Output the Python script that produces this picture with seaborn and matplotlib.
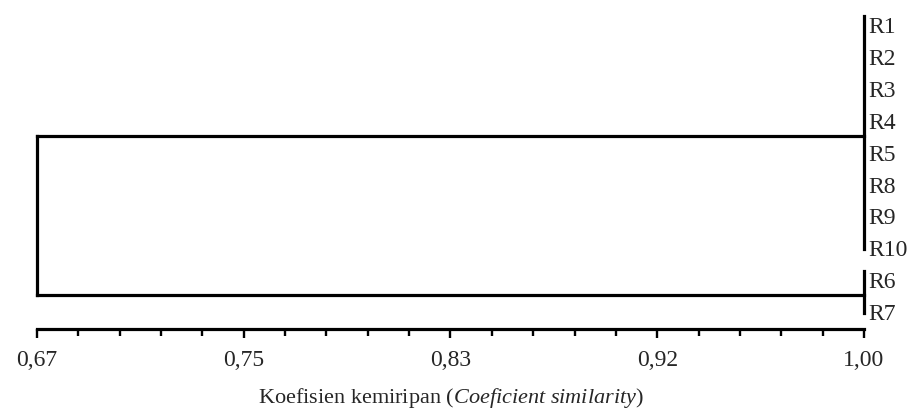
import numpy as np
import pandas as pd
import matplotlib
matplotlib.use("Agg")
import matplotlib.pyplot as plt
import seaborn as sns

# Leaf order (top to bottom) and cluster structure
leaves = ["R1", "R2", "R3", "R4", "R5", "R8", "R9", "R10", "R6", "R7"]
group_a = ["R1", "R2", "R3", "R4", "R5", "R8", "R9", "R10"]
group_b = ["R6", "R7"]
height_a = 1.00
height_b = 1.00
root_height = 0.67

tick_labels = ["0,67", "0,75", "0,83", "0,92", "1,00"]

sns.set_style("white")
plt.rcParams["font.family"] = ["Liberation Serif", "DejaVu Serif"]
plt.rcParams["mathtext.fontset"] = "custom"
plt.rcParams["mathtext.rm"] = "Liberation Serif"
plt.rcParams["mathtext.it"] = "Liberation Serif:italic"

pos = {name: i for i, name in enumerate(leaves)}

# Build dendrogram segments from the cluster data
rows = []
def add_seg(x0, y0, x1, y1):
    k = len(rows) // 2
    rows.append({"seg": k, "x": x0, "y": y0})
    rows.append({"seg": k, "x": x1, "y": y1})

centers = []
for grp, h in [(group_a, height_a), (group_b, height_b)]:
    ys = [pos[n] for n in grp]
    add_seg(h, min(ys) - 0.25, h, max(ys) + 0.05)
    c = np.mean(ys)
    centers.append(c)
    add_seg(h, c, root_height, c)
add_seg(root_height, centers[0], root_height, centers[1])
df = pd.DataFrame(rows)

fig = plt.figure(figsize=(9.17, 4.14), dpi=100)
ax = fig.add_axes([37 / 917, (414 - 330) / 414, (864 - 37) / 917, 320 / 414])
sns.lineplot(data=df, x="x", y="y", units="seg", estimator=None, sort=False,
             color="black", linewidth=2.3, ax=ax, legend=False)
for line in ax.lines:
    line.set_clip_on(False)
    line.set_solid_capstyle("projecting")

ax.set_xlim(0.67, 1.00)
ax.set_ylim(9.56, -0.47)

major = np.linspace(0.67, 1.00, len(tick_labels))
ax.set_xticks(major)
ax.set_xticklabels(tick_labels, fontsize=17)
ax.set_xticks(np.linspace(0.67, 1.00, 21), minor=True)
ax.tick_params(axis="x", which="major", direction="out", length=6.5, width=1.7,
               pad=8, bottom=True, color="black")
ax.tick_params(axis="x", which="minor", direction="out", length=5, width=1.7,
               bottom=True, color="black")

ax.yaxis.tick_right()
ax.set_yticks(range(len(leaves)))
ax.set_yticklabels(leaves, fontsize=17)
ax.tick_params(axis="y", length=0, pad=3)
ax.set_ylabel("")

for s in ["top", "left", "right"]:
    ax.spines[s].set_visible(False)
ax.spines["bottom"].set_linewidth(2.3)
ax.spines["bottom"].set_color("black")
ax.spines["bottom"].set_capstyle("projecting")

ax.set_xlabel(r"Koefisien kemiripan ($\mathit{Coeficient\ similarity}$)",
              fontsize=16, labelpad=11)

fig.savefig("out.png", dpi=100)
